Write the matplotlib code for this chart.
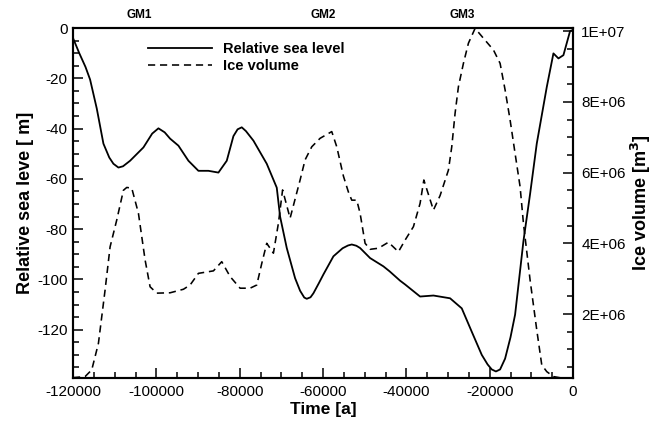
import matplotlib
matplotlib.use("Agg")
from matplotlib import pyplot as plt
from matplotlib.ticker import MultipleLocator

plt.rcParams['font.family'] = ['Liberation Sans', 'DejaVu Sans']
plt.rcParams['axes.unicode_minus'] = False

# relative sea level [m] vs time [a]
t_sea = [-120000, -118500, -117000, -115900, -114300, -112700, -111300, -110300,
         -109100, -108000, -106300, -103100, -101000, -99500, -98000, -96700,
         -94700, -92300, -89900, -87500, -85100, -83100, -81500, -80500, -79500,
         -78500, -76700, -73500, -71100, -70300, -68700, -66700, -65500, -64500,
         -63900, -63000, -62300, -61000, -59900, -57500, -55300, -54000, -53100,
         -52000, -51100, -48700, -45500, -44000, -41500, -40300, -36700, -33500,
         -29500, -26700, -24300, -21900, -20500, -19500, -18500, -17500, -16300,
         -15000, -13900, -11900, -10300, -8700, -6300, -4700, -3500, -2300, -700, 0]
sea = [-4, -10, -15.5, -20.5, -32, -46, -51.5, -54,
       -55.5, -55, -52.8, -47.5, -42, -39.9, -41.5, -44,
       -46.8, -52.8, -56.8, -56.8, -57.5, -52.8, -43, -40.3, -39.5,
       -41, -44.8, -54, -63.5, -75, -87.5, -99.5, -104.5, -107.2,
       -107.7, -107.1, -105.5, -101.5, -98, -90.8, -87.6, -86.5, -86.1,
       -86.6, -87.5, -91.5, -94.8, -96.8, -100.5, -102, -106.8, -106.4,
       -107.5, -111.5, -120.8, -130, -133.8, -135.8, -136.6, -135.8, -131.5,
       -123, -114, -84.8, -66, -46, -23.5, -10.1, -12.1, -10.8, -1.2, -0.8]

# ice volume [m^3]
t_ice = [-120000, -117100, -115500, -113900, -112300, -111100, -109500, -107900,
         -107100, -105900, -104300, -102700, -101500, -99900, -96700, -93500,
         -91900, -89900, -86300, -84300, -82300, -79900, -77500, -75900, -74700,
         -73500, -71900, -70700, -69700, -67900, -65500, -64300, -62700, -60700,
         -57900, -56700, -55100, -53900, -53100, -51900, -51100, -49900, -48700,
         -46700, -44300, -41900, -40300, -38300, -36700, -35800, -33500, -31900,
         -29900, -29100, -28300, -27500, -26300, -25100, -23500, -21500, -19100,
         -17500, -16300, -15100, -13900, -12700, -11900, -10300, -8700, -7500,
         -6300, -4700, -2300]
ice = [0.2e6, 0.23e6, 0.42e6, 1.17e6, 2.68e6, 3.9e6, 4.66e6, 5.5e6,
       5.58e6, 5.56e6, 4.85e6, 3.53e6, 2.77e6, 2.59e6, 2.6e6, 2.7e6,
       2.82e6, 3.15e6, 3.22e6, 3.48e6, 3.06e6, 2.73e6, 2.73e6, 2.82e6, 3.43e6,
       4.0e6, 3.72e6, 4.57e6, 5.51e6, 4.71e6, 5.79e6, 6.36e6, 6.73e6, 6.97e6,
       7.16e6, 6.73e6, 5.9e6, 5.45e6, 5.22e6, 5.22e6, 4.85e6, 4.0e6, 3.83e6,
       3.86e6, 4.03e6, 3.76e6, 4.09e6, 4.47e6, 5.13e6, 5.79e6, 4.94e6, 5.35e6,
       6.07e6, 6.73e6, 7.68e6, 8.43e6, 9.09e6, 9.66e6, 10.08e6, 9.8e6, 9.47e6,
       9.09e6, 8.34e6, 7.49e6, 6.54e6, 5.6e6, 4.57e6, 2.96e6, 1.55e6, 0.56e6,
       0.37e6, 0.23e6, 0.18e6]

gm_pos = [-104000, -60000, -26500]
gm_names = ["GM1", "GM2", "GM3"]

fig = plt.figure(figsize=(6.53, 4.23), dpi=100)
ax = fig.add_axes([0.1118, 0.1064, 0.7657, 0.8274])
ax2 = ax.twinx()

line_sea, = ax.plot(t_sea, sea, color="black", lw=1.3, label="Relative sea level")
line_ice, = ax2.plot(t_ice, ice, color="black", lw=1.15, linestyle=(0, (4.5, 3)),
                     label="Ice volume")

ax.set_xlim(-120000, 0)
ax.set_ylim(-139.2, 0)
ax2.set_ylim(1.9e5, 1.009e7)

ax.xaxis.set_major_locator(MultipleLocator(20000))
ax.xaxis.set_minor_locator(MultipleLocator(5000))
ax.yaxis.set_major_locator(MultipleLocator(20))
ax.yaxis.set_minor_locator(MultipleLocator(5))
ax2.yaxis.set_minor_locator(MultipleLocator(5e5))
ax2.set_yticks([2e6, 4e6, 6e6, 8e6, 1e7])
ax2.set_yticklabels(["2E+06", "4E+06", "6E+06", "8E+06", "1E+07"])

for a in (ax, ax2):
    for s in a.spines.values():
        s.set_linewidth(1.5)
ax.tick_params(axis="both", which="both", direction="in", top=False, right=False,
               labelsize=11, width=1.1)
ax.tick_params(which="major", length=7)
ax.tick_params(which="minor", length=4.5)
ax.tick_params(axis="x", pad=5)
ax.tick_params(axis="y", pad=4)
ax2.tick_params(axis="y", which="both", direction="in", labelsize=11, width=1.1, pad=6)
ax2.tick_params(which="major", length=7)
ax2.tick_params(which="minor", length=4.5)

ax.set_xlabel("Time [a]", fontsize=12.5, fontweight="bold", labelpad=2)
ax.set_ylabel("Relative sea leve [ m]", fontsize=13, fontweight="bold", labelpad=2)
ax2.set_ylabel("Ice volume [m$^\\mathbf{3}$]", fontsize=13, fontweight="bold", labelpad=2)

for xp, nm in zip(gm_pos, gm_names):
    ax.text(xp, 1.02, nm, transform=ax.get_xaxis_transform(), ha="center",
            va="bottom", fontsize=8.5, fontweight="bold")

leg = ax.legend([line_sea, line_ice], ["Relative sea level", "Ice volume"],
                loc="upper left", bbox_to_anchor=(0.124, 0.998), frameon=False,
                handlelength=4.4, handletextpad=0.75, labelspacing=0.2,
                prop={"weight": "bold", "size": 10.5})

fig.savefig("out.png", dpi=100)
